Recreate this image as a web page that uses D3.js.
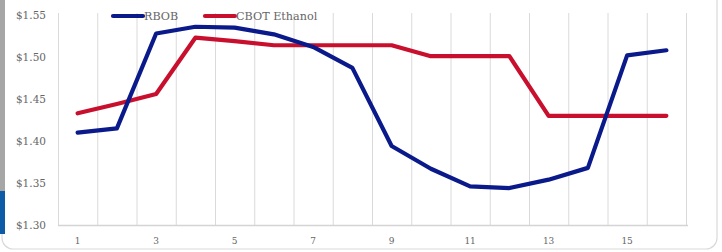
<!DOCTYPE html>
<html><head><meta charset="utf-8">
<script src="https://cdn.jsdelivr.net/npm/d3@7"></script>
<style>html,body{margin:0;padding:0;background:#fff;}svg{display:block;}</style>
</head><body>
<svg id="c" width="722" height="252"></svg>
<script>
const categories = [1,2,3,4,5,6,7,8,9,10,11,12,13,14,15,16];
const rbob = [1.410,1.415,1.528,1.536,1.535,1.527,1.512,1.487,1.394,1.367,1.346,1.344,1.354,1.368,1.502,1.508];
const ethanol = [1.433,1.444,1.456,1.523,1.519,1.514,1.514,1.514,1.514,1.501,1.501,1.501,1.430,1.430,1.430,1.430];
const yTicks = [1.30,1.35,1.40,1.45,1.50,1.55];
const xTickLabels = [1,3,5,7,9,11,13,15];
const seriesNames = ["RBOB","CBOT Ethanol"];
const colors = ["#0a1a8a","#c8102e"];

const svg = d3.select("#c");
// frame
svg.append("rect").attr("x",2).attr("y",-12).attr("width",715).attr("height",261)
  .attr("rx",11).attr("fill","#fff").attr("stroke","#d9d9d9").attr("stroke-width",1.2);
// left accent bars
svg.append("rect").attr("x",0).attr("y",0).attr("width",5).attr("height",191).attr("fill","#a6a6a6");
svg.append("rect").attr("x",0).attr("y",191).attr("width",5).attr("height",43).attr("fill","#0d5aa7");

const x = d3.scaleBand().domain(categories).range([58,686]).padding(0);
const y = d3.scaleLinear().domain([1.30,1.55]).range([225,15]);

// vertical gridlines at band edges
const edges = categories.map(c=>x(c)).concat([x(categories[categories.length-1])+x.bandwidth()]);
svg.append("g").selectAll("line").data(edges).join("line")
  .attr("x1",d=>d+0.5).attr("x2",d=>d+0.5).attr("y1",y(1.55)-2).attr("y2",y(1.30))
  .attr("stroke","#dadada").attr("stroke-width",1);
// bottom axis line
svg.append("line").attr("x1",58).attr("x2",688).attr("y1",y(1.30)+0.5).attr("y2",y(1.30)+0.5)
  .attr("stroke","#d4d4d4").attr("stroke-width",1.3);

// y labels
svg.append("g").selectAll("text").data(yTicks).join("text")
  .attr("x",46).attr("y",d=>y(d)).attr("dy","0.35em").attr("text-anchor","end")
  .attr("font-family","DejaVu Serif").attr("font-size",10.5).attr("fill","#666")
  .text(d=>"$"+d.toFixed(2));
// x labels
svg.append("g").selectAll("text").data(xTickLabels).join("text")
  .attr("x",d=>x(d)+x.bandwidth()/2).attr("y",241).attr("dy","0.35em").attr("text-anchor","middle")
  .attr("font-family","DejaVu Serif").attr("font-size",9).attr("fill","#666")
  .text(d=>d);

const line = d3.line().x((d,i)=>x(categories[i])+x.bandwidth()/2).y(d=>y(d));
[ethanol, rbob].forEach((s,k)=>{
  svg.append("path").datum(s).attr("d",line).attr("fill","none")
    .attr("stroke", k===0?colors[1]:colors[0]).attr("stroke-width",4.2)
    .attr("stroke-linejoin","round").attr("stroke-linecap","round");
});

// legend
const leg = [{x:113,name:seriesNames[0],c:colors[0]},{x:205,name:seriesNames[1],c:colors[1]}];
leg.forEach(l=>{
  svg.append("line").attr("x1",l.x).attr("x2",l.x+30).attr("y1",16).attr("y2",16)
    .attr("stroke",l.c).attr("stroke-width",4.2).attr("stroke-linecap","round");
  svg.append("text").attr("x",l.x+31).attr("y",16).attr("dy","0.35em")
    .attr("font-family","DejaVu Serif").attr("font-size",11.2).attr("fill","#666").text(l.name);
});
</script>
</body></html>
